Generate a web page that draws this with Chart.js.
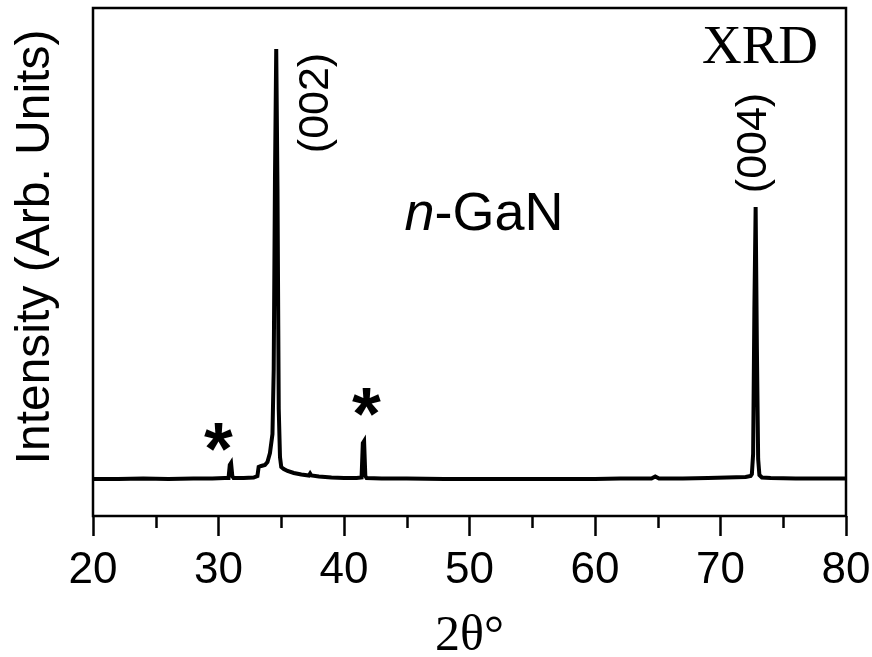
<!DOCTYPE html>
<html>
<head>
<meta charset="utf-8">
<script src="https://cdn.jsdelivr.net/npm/chart.js@4.4.1/dist/chart.umd.min.js"></script>
<style>
  html, body { margin: 0; padding: 0; background: #fff; }
  #wrap { width: 872px; height: 657px; }
</style>
</head>
<body>
<div id="wrap"><canvas id="xrdChart" width="872" height="657"></canvas></div>
<script>
// 2-theta positions (degrees) and intensity, baseline = 0
const twoTheta = [20, 22, 24, 26, 28, 29.5, 30.5, 30.8, 30.9, 31.0, 31.1, 31.2, 32, 32.8, 33.1, 33.2,
  33.4, 33.7, 33.9, 34.1, 34.3, 34.4, 34.5, 34.6, 34.7, 34.8, 34.9, 35.0, 35.2, 35.5, 36.0, 36.6,
  37.2, 37.3, 37.4, 38.0, 39.0, 40.0, 41.0, 41.4, 41.5, 41.6, 41.7, 41.8, 43, 45, 48, 51, 54, 57,
  60, 62, 64.5, 64.8, 65.1, 67, 69, 70.5, 72.0, 72.4, 72.5, 72.6, 72.7, 72.8, 72.9, 73.0, 73.1,
  73.3, 74, 76, 78, 80];
const intensity = [0, 0, 0.5, 0, 0.5, 0.5, 1, 1, 14, 16, 3, 1, 1, 1.5, 3, 12,
  13, 14, 17, 26, 45, 110, 300, 430, 290, 70, 22, 12, 10, 8, 6, 4.5,
  3.5, 5.5, 3.5, 2.5, 1.5, 1, 1, 1.5, 36, 38, 3, 1, 0.5, 0.5, 0, 0, 0, 0,
  0, 0.5, 0.5, 2.5, 0.5, 0.5, 1, 1.5, 2, 3, 5, 25, 170, 272, 130, 20, 4,
  1.5, 1, 0.5, 0.5, 0.5];

const xMin = 20, xMax = 80;
const majorTicks = [20, 30, 40, 50, 60, 70, 80];
const minorTicks = [25, 35, 45, 55, 65, 75];

// peak labels: text, 2theta, intensity position of the label centre
const peakLabels = [
  { text: '(002)', x: 37.8, y: 376 },
  { text: '(004)', x: 72.7, y: 336 }
];
// impurity markers
const starMarks = [
  { x: 30.0, y: 42 },
  { x: 41.8, y: 77 }
];

const sans = "'Liberation Sans', Arial, sans-serif";
const serif = "'Liberation Serif', 'Times New Roman', serif";

const points = twoTheta.map((t, i) => ({ x: t, y: intensity[i] }));

const annotate = {
  id: 'annotate',
  afterDraw(chart) {
    const ctx = chart.ctx;
    const xs = chart.scales.x;
    const ys = chart.scales.y;
    const a = chart.chartArea;
    ctx.save();
    ctx.strokeStyle = '#000';
    ctx.lineWidth = 2.5;
    // frame
    ctx.strokeRect(a.left, a.top, a.right - a.left, a.bottom - a.top);
    // minor ticks
    minorTicks.forEach(v => {
      const px = Math.round(xs.getPixelForValue(v)) + 0.5;
      ctx.beginPath();
      ctx.moveTo(px, a.bottom);
      ctx.lineTo(px, a.bottom + 12);
      ctx.stroke();
    });

    ctx.fillStyle = '#000';
    // y axis title
    ctx.save();
    ctx.translate(36, 247);
    ctx.rotate(-Math.PI / 2);
    ctx.font = '48px ' + sans;
    ctx.textAlign = 'center';
    ctx.textBaseline = 'middle';
    ctx.fillText('Intensity (Arb. Units)', 0, 0);
    ctx.restore();

    // peak labels, rotated
    peakLabels.forEach(p => {
      ctx.save();
      ctx.translate(xs.getPixelForValue(p.x), ys.getPixelForValue(p.y));
      ctx.rotate(-Math.PI / 2);
      ctx.font = '43px ' + sans;
      ctx.textAlign = 'center';
      ctx.textBaseline = 'middle';
      ctx.fillText(p.text, 0, 0);
      ctx.restore();
    });

    // stars
    ctx.font = 'bold 74px ' + sans;
    ctx.textAlign = 'left';
    ctx.textBaseline = 'alphabetic';
    starMarks.forEach(s => {
      const m = ctx.measureText('*');
      const w = m.actualBoundingBoxRight + m.actualBoundingBoxLeft;
      const h = m.actualBoundingBoxAscent + m.actualBoundingBoxDescent;
      const cx = xs.getPixelForValue(s.x);
      const cy = ys.getPixelForValue(s.y);
      ctx.fillText('*', cx - w / 2 + m.actualBoundingBoxLeft, cy + h / 2 - m.actualBoundingBoxDescent);
    });

    // n-GaN
    ctx.textBaseline = 'alphabetic';
    const italicFont = 'italic 54px ' + sans;
    const normalFont = '54px ' + sans;
    ctx.font = italicFont;
    const w1 = ctx.measureText('n').width;
    ctx.font = normalFont;
    const w2 = ctx.measureText('-GaN').width;
    const startX = 484 - (w1 + w2) / 2;
    ctx.font = italicFont;
    ctx.fillText('n', startX, 230);
    ctx.font = normalFont;
    ctx.fillText('-GaN', startX + w1, 230);

    // XRD
    ctx.font = '55px ' + serif;
    ctx.textAlign = 'center';
    ctx.fillText('XRD', 760, 63);
    ctx.restore();
  }
};

new Chart(document.getElementById('xrdChart'), {
  type: 'line',
  data: {
    datasets: [{
      data: points,
      borderColor: '#000',
      borderWidth: 4,
      pointRadius: 0,
      tension: 0,
      fill: false
    }]
  },
  options: {
    responsive: false,
    animation: false,
    layout: { padding: { left: 0, right: 26, top: 8, bottom: 0 } },
    plugins: {
      legend: { display: false },
      tooltip: { enabled: false }
    },
    scales: {
      x: {
        type: 'linear',
        min: xMin,
        max: xMax,
        afterFit: (scale) => {
          scale.height = 141;
          scale.paddingLeft = 0;
          scale.paddingRight = 0;
        },
        afterBuildTicks: (scale) => { scale.ticks = majorTicks.map(v => ({ value: v })); },
        border: { display: false },
        grid: {
          display: true,
          drawOnChartArea: false,
          drawTicks: true,
          tickLength: 20,
          tickWidth: 2.5,
          tickColor: '#000'
        },
        ticks: {
          color: '#000',
          padding: 8,
          maxRotation: 0,
          font: { family: sans, size: 44 }
        },
        title: {
          display: true,
          text: '2θ°',
          color: '#000',
          font: { family: serif, size: 50, lineHeight: 0.8 },
          padding: { top: 0, bottom: 0 }
        }
      },
      y: {
        min: -37,
        max: 471,
        afterFit: (scale) => { scale.width = 93; },
        border: { display: false },
        grid: { display: false },
        ticks: { display: false }
      }
    }
  },
  plugins: [annotate]
});
</script>
</body>
</html>
